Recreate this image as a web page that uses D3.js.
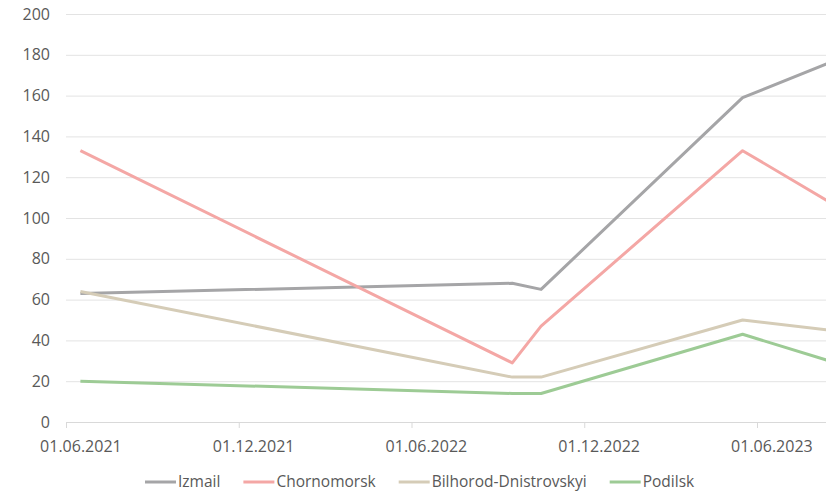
<!DOCTYPE html>
<html>
<head>
<meta charset="utf-8">
<script src="https://cdn.jsdelivr.net/npm/d3@7/dist/d3.min.js"></script>
<style>
  html, body { margin: 0; padding: 0; background: #fff; }
  svg { display: block; font-family: "Open Sans", "Noto Sans", sans-serif; }
</style>
</head>
<body>
<svg id="chart" width="826" height="492"></svg>
<script>
// Months shown on the axis (one category per month, starting June 2021)
const months = ["2021-06", "2022-09", "2022-10", "2023-05", "2023-08"];
const startMonth = "2021-06";

const seriesNames = ["Izmail", "Chornomorsk", "Bilhorod-Dnistrovskyi", "Podilsk"];
const izmail = [63, 68, 65, 159, 176];
const chornomorsk = [133, 29, 47, 133, 108];
const bilhorod = [64, 22, 22, 50, 45];
const podilsk = [20, 14, 14, 43, 30];
const seriesColors = ["#a5a5a7", "#f4a7a5", "#d5ccb7", "#9dcb95"];

const yTicks = [0, 20, 40, 60, 80, 100, 120, 140, 160, 180, 200];
const xTickMonths = [0, 6, 12, 18, 24];
const xTickLabels = ["01.06.2021", "01.12.2021", "01.06.2022", "01.12.2022", "01.06.2023"];

const W = 826, H = 492;
const plotLeft = 66, plotTop = 14, plotBottom = 422;
const monthWidth = 691 / 24;
const axisFont = "16px";

function monthIndex(s) {
  const [yy, mm] = s.split("-").map(Number);
  const [y0, m0] = startMonth.split("-").map(Number);
  return (yy - y0) * 12 + (mm - m0);
}

const svg = d3.select("#chart");

const x = d3.scaleLinear().domain([0, 27]).range([plotLeft, plotLeft + 27 * monthWidth]);
const y = d3.scaleLinear().domain([0, 200]).range([plotBottom, plotTop]);

// Horizontal gridlines
svg.append("g")
  .selectAll("line")
  .data(yTicks.filter(d => d > 0))
  .join("line")
  .attr("x1", plotLeft).attr("x2", W)
  .attr("y1", d => y(d) + 0.5).attr("y2", d => y(d) + 0.5)
  .attr("stroke", "#e3e3e3").attr("stroke-width", 1);

// Y axis labels
const yAxis = svg.append("g")
  .attr("transform", `translate(${plotLeft},0)`)
  .call(d3.axisLeft(y).tickValues(yTicks).tickSize(0).tickPadding(16));
yAxis.select(".domain").remove();
yAxis.selectAll("text")
  .attr("fill", "#595959").style("font-size", axisFont)
  .style("font-family", "'Open Sans', sans-serif");

// X axis: tick marks on month boundaries
const xTickAxis = svg.append("g")
  .attr("transform", `translate(0,${plotBottom})`)
  .call(d3.axisBottom(x).tickValues(xTickMonths).tickSize(6).tickFormat(""));
xTickAxis.select(".domain")
  .attr("d", `M${plotLeft},0.5H${W}`)
  .attr("stroke", "#d9d9d9");
xTickAxis.selectAll(".tick line").attr("stroke", "#d9d9d9");

// X axis labels centred on their month
const xLabelAxis = svg.append("g")
  .attr("transform", `translate(0,${plotBottom})`)
  .call(d3.axisBottom(x)
    .tickValues(xTickMonths.map(m => m + 0.5))
    .tickSize(0).tickPadding(19)
    .tickFormat((d, i) => xTickLabels[i]));
xLabelAxis.select(".domain").remove();
xLabelAxis.selectAll("text")
  .attr("fill", "#595959").style("font-size", axisFont)
  .style("font-family", "'Open Sans', sans-serif");

// Lines
const allValues = [izmail, chornomorsk, bilhorod, podilsk];
const line = d3.line()
  .x((d, i) => x(monthIndex(months[i]) + 0.5))
  .y(d => y(d));

svg.append("g")
  .selectAll("path")
  .data(allValues)
  .join("path")
  .attr("d", d => line(d))
  .attr("fill", "none")
  .attr("stroke", (d, i) => seriesColors[i])
  .attr("stroke-width", 3)
  .attr("stroke-linejoin", "round");

// Legend
const legend = svg.append("g").attr("transform", "translate(0,482)");
let cx = 145;
seriesNames.forEach((name, i) => {
  legend.append("line")
    .attr("x1", cx).attr("x2", cx + 31)
    .attr("y1", 0).attr("y2", 0)
    .attr("stroke", seriesColors[i]).attr("stroke-width", 3);
  const t = legend.append("text")
    .attr("x", cx + 33).attr("y", 5)
    .attr("fill", "#595959").style("font-size", "15.5px")
    .text(name);
  cx += 33 + t.node().getComputedTextLength() + 23;
});
</script>
</body>
</html>
